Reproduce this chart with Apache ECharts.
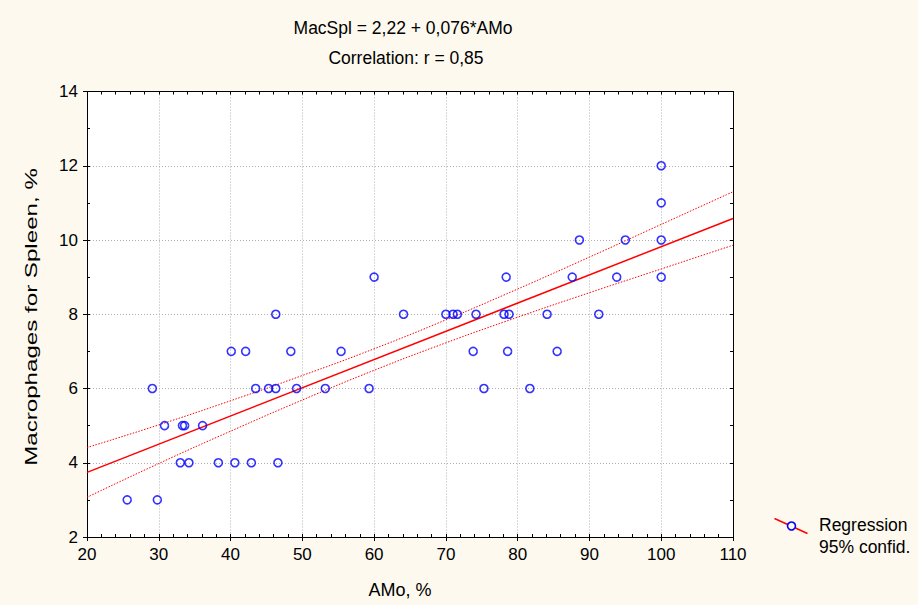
<!DOCTYPE html>
<html>
<head>
<meta charset="utf-8">
<script src="https://cdn.jsdelivr.net/npm/echarts@6/dist/echarts.min.js"></script>
<style>
  html, body { margin: 0; padding: 0; background: #fdf9ee; }
  #chart { width: 918px; height: 605px; }
</style>
</head>
<body>
<div id="chart"></div>
<script>
// AMo (%) for each observation
const amo = [
  25.6, 29.8, 33.0, 34.2, 38.3, 40.6, 42.9, 46.6,
  30.8, 33.3, 33.6, 36.1,
  29.1, 43.5, 45.3, 46.3, 49.2, 53.2, 59.3, 75.3, 81.7,
  40.1, 42.1, 48.4, 55.4, 73.8, 78.6, 85.5,
  46.3, 64.1, 70.0, 71.0, 71.6, 74.2, 78.1, 78.8, 84.1, 91.3,
  60.0, 78.4, 87.6, 93.8, 100.0,
  88.6, 95.0, 100.0,
  100.0, 100.0
];
// Macrophages for spleen (%) for the same observations
const macSpl = [
  3, 3, 4, 4, 4, 4, 4, 4,
  5, 5, 5, 5,
  6, 6, 6, 6, 6, 6, 6, 6, 6,
  7, 7, 7, 7, 7, 7, 7,
  8, 8, 8, 8, 8, 8, 8, 8, 8, 8,
  9, 9, 9, 9, 9,
  10, 10, 10,
  11, 12
];

// Fitted line MacSpl = a + b*AMo and correlation
const intercept = 2.22;
const slope = 0.076;
const correlation = 0.85;

// 95% confidence band of the fit
const bandX     = [20, 30, 40, 50, 60, 70, 80, 90, 100, 110];
const bandUpper = [4.41, 5.02, 5.67, 6.35, 7.07, 7.85, 8.68, 9.54, 10.42, 11.30];
const bandLower = [3.07, 3.98, 4.85, 5.69, 6.49, 7.23, 7.92, 8.58, 9.22, 9.86];

// Axis ranges
const xRange = [20, 110];
const yRange = [2, 14];

const FONT = '"Liberation Sans", Arial, sans-serif';
const fmt = v => String(v).replace('.', ',');

const chart = echarts.init(document.getElementById('chart'), null, { renderer: 'svg' });

const black = { color: '#000', width: 1 };
const hiddenAxis = (extra) => Object.assign({
  type: 'value',
  axisLine: { show: false, onZero: false },
  axisLabel: { show: false },
  splitLine: { show: false },
  axisTick: { show: true, inside: true, length: 3, lineStyle: black }
}, extra);

const fitLine = xRange.map(x => [x, intercept + slope * x]);

chart.setOption({
  backgroundColor: '#fdf9ee',
  animation: false,
  title: [
    {
      text: 'MacSpl = ' + fmt(intercept) + ' + ' + fmt(slope) + '*AMo',
      left: 398, top: 14, textAlign: 'center',
      textStyle: { fontFamily: FONT, fontSize: 17.5, fontWeight: 'normal', color: '#000' }
    },
    {
      text: 'Correlation: r = ' + fmt(correlation),
      left: 401, top: 44, textAlign: 'center',
      textStyle: { fontFamily: FONT, fontSize: 17.5, fontWeight: 'normal', color: '#000' }
    }
  ],
  grid: {
    left: 87, right: 185, top: 91.5, bottom: 68,
    show: true, backgroundColor: '#ffffff', borderWidth: 0
  },
  xAxis: [
    {
      type: 'value', position: 'bottom',
      min: xRange[0], max: xRange[1], interval: 10,
      axisLine: { show: true, onZero: false, lineStyle: black },
      axisTick: { show: true, inside: false, length: 4, lineStyle: black },
      axisLabel: { margin: 9, fontFamily: FONT, fontSize: 17, color: '#000' },
      splitLine: { show: true, lineStyle: { color: '#b0b0b0', width: 1, type: [1, 2] } }
    },
    hiddenAxis({ position: 'bottom', min: xRange[0], max: xRange[1], interval: 2 }),
    hiddenAxis({ position: 'top', min: xRange[0], max: xRange[1], interval: 2,
                 axisLine: { show: true, onZero: false, lineStyle: black } })
  ],
  yAxis: [
    {
      type: 'value', position: 'left',
      min: yRange[0], max: yRange[1], interval: 2,
      axisLine: { show: true, onZero: false, lineStyle: black },
      axisTick: { show: true, inside: false, length: 4, lineStyle: black },
      axisLabel: { margin: 9, fontFamily: FONT, fontSize: 17, color: '#000' },
      splitLine: { show: true, lineStyle: { color: '#b0b0b0', width: 1, type: [1, 2] } }
    },
    hiddenAxis({ position: 'left', min: yRange[0], max: yRange[1], interval: 1 }),
    hiddenAxis({ position: 'right', min: yRange[0], max: yRange[1], interval: 1,
                 axisLine: { show: true, onZero: false, lineStyle: black } })
  ],
  series: [
    {
      name: '95% confid. upper', type: 'line', smooth: true, showSymbol: false, silent: true,
      data: bandX.map((x, i) => [x, bandUpper[i]]),
      lineStyle: { color: '#ff0000', width: 1, type: [1.5, 1.5] }, z: 3
    },
    {
      name: '95% confid. lower', type: 'line', smooth: true, showSymbol: false, silent: true,
      data: bandX.map((x, i) => [x, bandLower[i]]),
      lineStyle: { color: '#ff0000', width: 1, type: [1.5, 1.5] }, z: 3
    },
    {
      name: 'Regression', type: 'line', showSymbol: false, silent: true,
      data: fitLine,
      lineStyle: { color: '#ff0000', width: 1.5 }, z: 4
    },
    {
      name: 'Observations', type: 'scatter', symbol: 'circle', symbolSize: 8,
      data: amo.map((x, i) => [x, macSpl[i]]),
      itemStyle: { color: 'rgba(0,0,0,0)', borderColor: '#0000ff', borderWidth: 1.6 },
      z: 5
    }
  ],
  graphic: [
    // axis titles
    {
      type: 'text', x: 400, y: 590,
      style: { text: 'AMo, %', font: '18px ' + FONT, fill: '#000',
               align: 'center', verticalAlign: 'middle' }
    },
    {
      type: 'text', x: 31, y: 317, rotation: Math.PI / 2, scaleX: 1.42,
      style: { text: 'Macrophages for Spleen, %', font: '17px ' + FONT, fill: '#000',
               align: 'center', verticalAlign: 'middle' }
    },
    // legend
    {
      type: 'group', left: 772, top: 516,
      children: [
        { type: 'line', shape: { x1: 0, y1: 2, x2: 33, y2: 17 },
          style: { stroke: '#ff0000', lineWidth: 1.5 } },
        { type: 'circle', shape: { cx: 17, cy: 9.5, r: 4 },
          style: { fill: '#fdf9ee', stroke: '#0000ff', lineWidth: 1.6 } }
      ]
    },
    {
      type: 'text', left: 819, top: 516,
      style: { text: 'Regression', font: '17.5px ' + FONT, fill: '#000' }
    },
    {
      type: 'text', left: 819, top: 538,
      style: { text: '95% confid.', font: '17.5px ' + FONT, fill: '#000' }
    }
  ]
});
</script>
</body>
</html>
